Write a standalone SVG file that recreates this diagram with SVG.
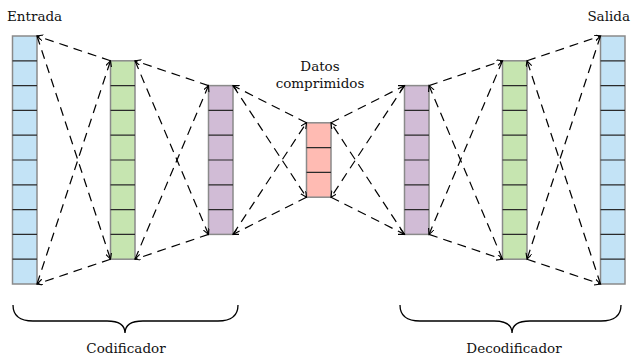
<svg xmlns="http://www.w3.org/2000/svg" width="631" height="360" viewBox="0 0 631 360">
  <style>
    .col { stroke: #8a8a8a; stroke-width: 1.5; }
    .sep { stroke: #2a2a2a; stroke-width: 1.2; }
    .blue { fill: #c3e3f6; }
    .green { fill: #c6e5b0; }
    .purple { fill: #d1bcd6; }
    .red { fill: #ffbbb3; }
    .link { stroke: #000; stroke-width: 1.2; stroke-dasharray: 9 6; fill: none; marker-end: url(#arrow); }
    .brace { stroke: #000; stroke-width: 1.3; fill: none; }
    text { font-family: "DejaVu Serif", "Liberation Serif", serif; font-size: 13.5px; fill: #111; }
  </style>
  <defs>
    <marker id="arrow" markerWidth="8" markerHeight="8" refX="6" refY="3" orient="auto" markerUnits="userSpaceOnUse">
      <path d="M0,0 L6,3 L0,6" fill="none" stroke="#000" stroke-width="1.1"/>
    </marker>
  </defs>

  <!-- input layer: 10 cells -->
  <g id="entrada">
    <rect class="col blue" x="12.5" y="36" width="24.5" height="248"/>
    <path class="sep" d="M12.5,60.8H37M12.5,85.6H37M12.5,110.4H37M12.5,135.2H37M12.5,160H37M12.5,184.8H37M12.5,209.6H37M12.5,234.4H37M12.5,259.2H37"/>
  </g>

  <!-- encoder hidden layer 1: 8 cells -->
  <g id="cod1">
    <rect class="col green" x="110.5" y="60.8" width="24.5" height="198.4"/>
    <path class="sep" d="M110.5,85.6H135M110.5,110.4H135M110.5,135.2H135M110.5,160H135M110.5,184.8H135M110.5,209.6H135M110.5,234.4H135"/>
  </g>

  <!-- encoder hidden layer 2: 6 cells -->
  <g id="cod2">
    <rect class="col purple" x="208.5" y="85.6" width="24.5" height="148.8"/>
    <path class="sep" d="M208.5,110.4H233M208.5,135.2H233M208.5,160H233M208.5,184.8H233M208.5,209.6H233"/>
  </g>

  <!-- bottleneck: 3 cells -->
  <g id="latente">
    <rect class="col red" x="306.5" y="122.8" width="24.5" height="74.4"/>
    <path class="sep" d="M306.5,147.6H331M306.5,172.4H331"/>
  </g>

  <!-- decoder hidden layer 1: 6 cells -->
  <g id="dec1">
    <rect class="col purple" x="404.5" y="85.6" width="24.5" height="148.8"/>
    <path class="sep" d="M404.5,110.4H429M404.5,135.2H429M404.5,160H429M404.5,184.8H429M404.5,209.6H429"/>
  </g>

  <!-- decoder hidden layer 2: 8 cells -->
  <g id="dec2">
    <rect class="col green" x="502.5" y="60.8" width="24.5" height="198.4"/>
    <path class="sep" d="M502.5,85.6H527M502.5,110.4H527M502.5,135.2H527M502.5,160H527M502.5,184.8H527M502.5,209.6H527M502.5,234.4H527"/>
  </g>

  <!-- output layer: 10 cells -->
  <g id="salida">
    <rect class="col blue" x="600.5" y="36" width="24.5" height="248"/>
    <path class="sep" d="M600.5,60.8H625M600.5,85.6H625M600.5,110.4H625M600.5,135.2H625M600.5,160H625M600.5,184.8H625M600.5,209.6H625M600.5,234.4H625M600.5,259.2H625"/>
  </g>

  <!-- dashed connections between neighbouring layers -->
  <g id="conexiones">
    <!-- entrada / cod1 -->
    <line class="link" x1="110.5" y1="60.8" x2="37" y2="36"/>
    <line class="link" x1="110.5" y1="259.2" x2="37" y2="284"/>
    <line class="link" x1="37" y1="284" x2="110.5" y2="60.8"/>
    <line class="link" x1="37" y1="36" x2="110.5" y2="259.2"/>
    <!-- cod1 / cod2 -->
    <line class="link" x1="208.5" y1="85.6" x2="135" y2="60.8"/>
    <line class="link" x1="208.5" y1="234.4" x2="135" y2="259.2"/>
    <line class="link" x1="135" y1="259.2" x2="208.5" y2="85.6"/>
    <line class="link" x1="135" y1="60.8" x2="208.5" y2="234.4"/>
    <!-- cod2 / latente -->
    <line class="link" x1="306.5" y1="122.8" x2="233" y2="85.6"/>
    <line class="link" x1="306.5" y1="197.2" x2="233" y2="234.4"/>
    <line class="link" x1="233" y1="234.4" x2="306.5" y2="122.8"/>
    <line class="link" x1="233" y1="85.6" x2="306.5" y2="197.2"/>
    <!-- latente / dec1 -->
    <line class="link" x1="331" y1="122.8" x2="404.5" y2="85.6"/>
    <line class="link" x1="331" y1="197.2" x2="404.5" y2="234.4"/>
    <line class="link" x1="404.5" y1="234.4" x2="331" y2="122.8"/>
    <line class="link" x1="404.5" y1="85.6" x2="331" y2="197.2"/>
    <!-- dec1 / dec2 -->
    <line class="link" x1="429" y1="85.6" x2="502.5" y2="60.8"/>
    <line class="link" x1="429" y1="234.4" x2="502.5" y2="259.2"/>
    <line class="link" x1="502.5" y1="259.2" x2="429" y2="85.6"/>
    <line class="link" x1="502.5" y1="60.8" x2="429" y2="234.4"/>
    <!-- dec2 / salida -->
    <line class="link" x1="527" y1="60.8" x2="600.5" y2="36"/>
    <line class="link" x1="527" y1="259.2" x2="600.5" y2="284"/>
    <line class="link" x1="600.5" y1="284" x2="527" y2="60.8"/>
    <line class="link" x1="600.5" y1="36" x2="527" y2="259.2"/>
  </g>

  <!-- labels -->
  <text x="7" y="21">Entrada</text>
  <text x="630" y="21" text-anchor="end">Salida</text>
  <text x="320" y="71" text-anchor="middle">Datos</text>
  <text x="320" y="88" text-anchor="middle">comprimidos</text>

  <!-- braces grouping encoder and decoder -->
  <path class="brace" d="M13,305 Q13,321 33,321 L107,321 Q125,321 125,333 Q125,321 143,321 L218,321 Q238,321 238,305"/>
  <path class="brace" d="M400,305 Q400,321 420,321 L494,321 Q512,321 512,333 Q512,321 530,321 L601,321 Q621,321 621,305"/>
  <text x="126" y="353" text-anchor="middle">Codificador</text>
  <text x="514" y="353" text-anchor="middle">Decodificador</text>
</svg>
